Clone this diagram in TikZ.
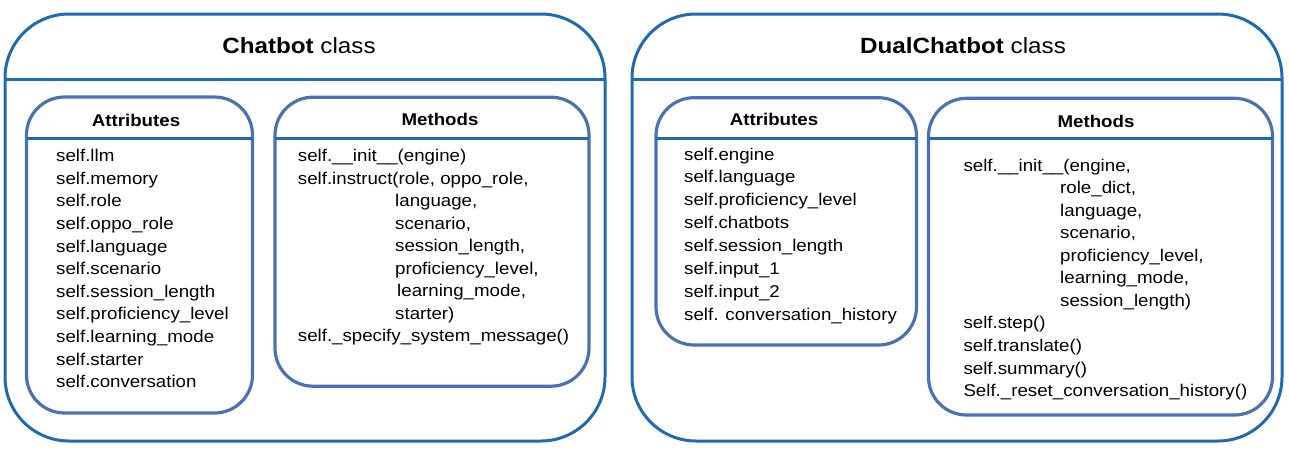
\documentclass[tikz,border=0pt]{standalone}
\usepackage{fontspec}
\setmainfont{Liberation Sans}[FakeStretch=1.1]
\definecolor{outerblue}{RGB}{31,106,177}
\definecolor{innerblue}{RGB}{76,112,180}
\tikzset{
  outerbox/.style={draw=outerblue, line width=3pt, rounded corners=64pt, inner sep=0pt, outer sep=0pt},
  innerbox/.style={draw=innerblue, line width=3.2pt, rounded corners=38pt, inner sep=0pt, outer sep=0pt},
  hdrline/.style={draw=outerblue, line width=3pt},
  titletext/.style={anchor=base, inner sep=0pt, font=\fontsize{22}{26}\selectfont},
  headtext/.style={anchor=base, inner sep=0pt, font=\bfseries\fontsize{17}{20}\selectfont},
  txt/.style={anchor=base west, inner sep=0pt, font=\fontsize{17}{20}\selectfont}
}
\begin{document}
\begin{tikzpicture}[x=1pt,y=-1pt]
\useasboundingbox (0,0) rectangle (1289,455);
\coordinate (hO) at (0,79);
\coordinate (hI) at (0,138);

% ---------- Chatbot class ----------
\node[outerbox, minimum width=600pt, minimum height=427pt] (oL) at (305,227.5) {};
\draw[hdrline] (oL.west |- hO) -- (oL.east |- hO);
\node[titletext] (tL) at (299,53) {\textbf{Chatbot} class};

\node[innerbox, minimum width=226pt, minimum height=316pt] (aL) at (139.5,255) {};
\draw[hdrline] (aL.west |- hI) -- (aL.east |- hI);
\node[headtext] (aLh) at (136,126.5) {Attributes};
\node[txt] (aL1) at (56,161.7) {self.llm};
\node[txt] (aL2) at (56,184.3) {self.memory};
\node[txt] (aL3) at (56,206.9) {self.role};
\node[txt] (aL4) at (56,229.5) {self.oppo\_role};
\node[txt] (aL5) at (56,252.1) {self.language};
\node[txt] (aL6) at (56,274.7) {self.scenario};
\node[txt] (aL7) at (56,297.3) {self.session\_length};
\node[txt] (aL8) at (56,319.9) {self.proficiency\_level};
\node[txt] (aL9) at (56,342.5) {self.learning\_mode};
\node[txt] (aL10) at (56,365.1) {self.starter};
\node[txt] (aL11) at (56,387.7) {self.conversation};

\node[innerbox, minimum width=314pt, minimum height=289pt] (mL) at (432,241.7) {};
\draw[hdrline] (mL.west |- hI) -- (mL.east |- hI);
\node[headtext] (mLh) at (440,125) {Methods};
\node[txt] (mL1) at (297.7,161.7) {self.\_\_init\_\_(engine)};
\node[txt] (mL2) at (297.7,184.2) {self.instruct(role, oppo\_role,};
\node[txt] (mL3) at (395,206.7) {language,};
\node[txt] (mL4) at (395,229.2) {scenario,};
\node[txt] (mL5) at (395,251.7) {session\_length,};
\node[txt] (mL6) at (395,274.2) {proficiency\_level,};
\node[txt] (mL7) at (397,296.7) {learning\_mode,};
\node[txt] (mL8) at (395,319.2) {starter)};
\node[txt] (mL9) at (297.7,341.7) {self.\_specify\_system\_message()};

% ---------- DualChatbot class ----------
\node[outerbox, minimum width=650pt, minimum height=427pt] (oR) at (957,227.5) {};
\draw[hdrline] (oR.west |- hO) -- (oR.east |- hO);
\node[titletext] (tR) at (963,53) {\textbf{DualChatbot} class};

\node[innerbox, minimum width=260.5pt, minimum height=247.3pt] (aR) at (786.25,221.35) {};
\draw[hdrline] (aR.west |- hI) -- (aR.east |- hI);
\node[headtext] (aRh) at (774,125.7) {Attributes};
\node[txt] (aR1) at (684,160) {self.engine};
\node[txt] (aR2) at (684,182.86) {self.language};
\node[txt] (aR3) at (684,205.72) {self.proficiency\_level};
\node[txt] (aR4) at (684,228.58) {self.chatbots};
\node[txt] (aR5) at (684,251.44) {self.session\_length};
\node[txt] (aR6) at (684,274.3) {self.input\_1};
\node[txt] (aR7) at (684,297.16) {self.input\_2};
\node[txt] (aR8) at (684,320) {self. conversation\_history};

\node[innerbox, minimum width=344pt, minimum height=316.7pt] (mR) at (1100.5,256.65) {};
\draw[hdrline] (mR.west |- hI) -- (mR.east |- hI);
\node[headtext] (mRh) at (1096,127.3) {Methods};
\node[txt] (mR1) at (963.3,171) {self.\_\_init\_\_(engine,};
\node[txt] (mR2) at (1060,193.57) {role\_dict,};
\node[txt] (mR3) at (1060,216.14) {language,};
\node[txt] (mR4) at (1060,238.71) {scenario,};
\node[txt] (mR5) at (1060,261.28) {proficiency\_level,};
\node[txt] (mR6) at (1060,283.85) {learning\_mode,};
\node[txt] (mR7) at (1060,306.42) {session\_length)};
\node[txt] (mR8) at (963.3,328.99) {self.step()};
\node[txt] (mR9) at (963.3,351.56) {self.translate()};
\node[txt] (mR10) at (963.3,374.13) {self.summary()};
\node[txt] (mR11) at (963.3,396.7) {Self.\_reset\_conversation\_history()};
\end{tikzpicture}
\end{document}
